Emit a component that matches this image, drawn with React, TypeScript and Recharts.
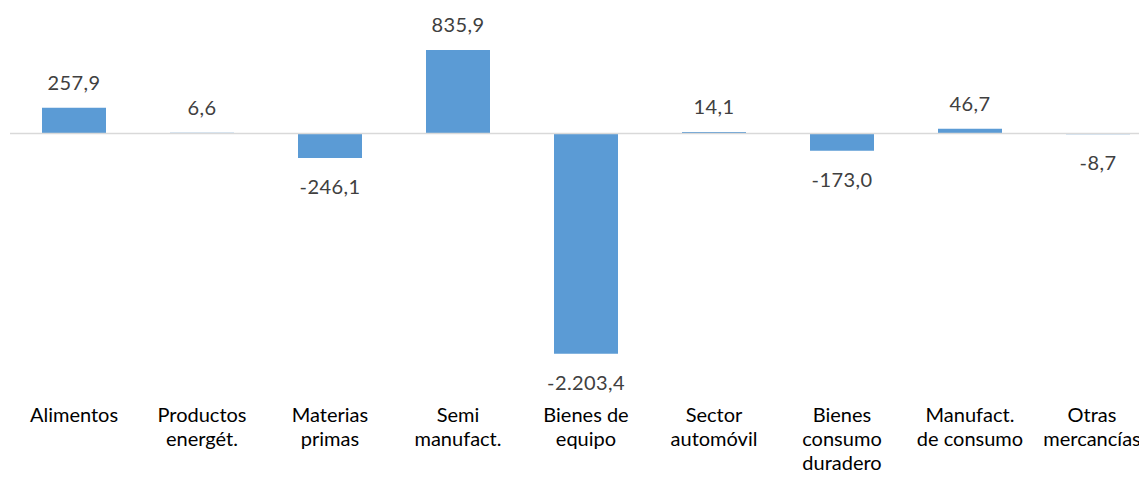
import { BarChart, Bar, XAxis, YAxis, ReferenceLine, LabelList } from 'recharts';

const categories = [
  'Alimentos',
  'Productos\nenergét.',
  'Materias\nprimas',
  'Semi\nmanufact.',
  'Bienes de\nequipo',
  'Sector\nautomóvil',
  'Bienes\nconsumo\nduradero',
  'Manufact.\nde consumo',
  'Otras\nmercancías',
];
const values = [257.9, 6.6, -246.1, 835.9, -2203.4, 14.1, -173.0, 46.7, -8.7];

const data = categories.map((name, i) => ({ name, value: values[i] }));

const FONT = 'Lato, "Open Sans", sans-serif';

// spanish number format: 2.203,4
function fmt(v: number) {
  const [int, dec] = Math.abs(v).toFixed(1).split('.');
  const grouped = int.replace(/\B(?=(\d{3})+(?!\d))/g, '.');
  return (v < 0 ? '-' : '') + grouped + ',' + dec;
}

function CategoryTick(props: any) {
  const { x, y, payload, index } = props;
  const lines = String(payload.value).split('\n');
  // keep the last label inside the visible area
  const cx = index === categories.length - 1 ? x - 6 : x;
  return (
    <text x={cx} y={y + 38} textAnchor="middle" fill="#000" fontSize={20} fontFamily={FONT}>
      {lines.map((l, i) => (
        <tspan key={i} x={cx} dy={i === 0 ? 0 : 24}>{l}</tspan>
      ))}
    </text>
  );
}

function ValueLabel(props: any) {
  const { x, y, width, height, value } = props;
  const cx = x + width / 2;
  const top = Math.min(y, y + height);
  const bottom = Math.max(y, y + height);
  const ty = value >= 0 ? top - 18 : bottom + 36;
  return (
    <text x={cx} y={ty} textAnchor="middle" fill="#404040" fontSize={20} letterSpacing={0.4} fontFamily={FONT}>
      {fmt(value)}
    </text>
  );
}

export default function App() {
  return (
    <div style={{ width: 1139, height: 471, overflow: 'hidden' }}>
      <BarChart
        width={1155}
        height={480}
        data={data}
        barCategoryGap="25%"
        margin={{ top: 25.5, right: 1, bottom: 44.5, left: 2 }}
      >
        <XAxis
          dataKey="name"
          axisLine={false}
          tickLine={false}
          tickSize={0}
          tickMargin={0}
          height={60}
          interval={0}
          tick={<CategoryTick />}
        />
        <YAxis hide domain={[-2500, 1000]} />
        <ReferenceLine y={0} stroke="#d9d9d9" strokeWidth={1.5} />
        <Bar dataKey="value" fill="#5b9bd5" isAnimationActive={false}>
          <LabelList dataKey="value" content={<ValueLabel />} />
        </Bar>
      </BarChart>
    </div>
  );
}
